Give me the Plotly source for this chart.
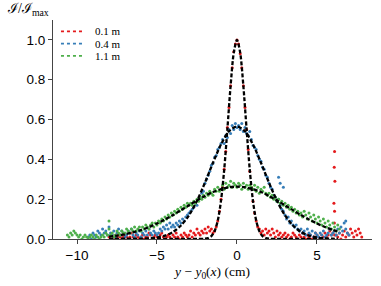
import plotly.graph_objects as go

# ---------------- data ----------------
series_names = ["0.1 m", "0.4 m", "1.1 m"]
series_colors = ["#e41a1c", "#377eb8", "#4daf4a"]

# 0.1 m measurements
red_x = [
    -8.0, -7.9, -7.8, -7.7, -7.6, -7.5, -7.4, -7.3, -7.2, -7.1,
    -7.0, -6.9, -6.8, -6.7, -6.6, -6.5, -6.4, -6.3, -6.2, -6.1,
    -6.0, -5.9, -5.8, -5.7, -5.6, -5.5, -5.4, -5.3, -5.2, -5.1,
    -5.0, -4.9, -4.8, -4.7, -4.6, -4.5, -4.4, -4.3, -4.2, -4.1,
    -4.0, -3.9, -3.8, -3.7, -3.6, -3.5, -3.4, -3.3, -3.2, -3.1,
    -3.0, -2.9, -2.8, -2.7, -2.6, -2.5, -2.4, -2.3, -2.2, -2.1,
    -2.0, -1.9, -1.8, -1.7, -1.6, -1.5, -1.4, -1.3, -1.2, -1.1,
    -1.0, -0.9, -0.8, -0.7, -0.6, -0.5, -0.4, -0.3, -0.2, -0.1,
    0.0, 0.1, 0.2, 0.3, 0.4, 0.5, 0.6, 0.7, 0.8, 0.9,
    1.0, 1.1, 1.2, 1.3, 1.4, 1.5, 1.6, 1.7, 1.8, 1.9,
    2.0, 2.1, 2.2, 2.3, 2.4, 2.5, 2.6, 2.7, 2.8, 2.9,
    3.0, 3.1, 3.2, 3.3, 3.4, 3.5, 3.6, 3.7, 3.8, 3.9,
    4.0, 4.1, 4.2, 4.3, 4.4, 4.5, 4.6, 4.7, 4.8, 4.9,
    5.0, 5.1, 5.2, 5.3, 5.4, 5.5, 5.6, 5.7, 5.8, 5.9,
    6.0, 6.1, 6.2, 6.3, 6.4, 6.5, 6.6, 6.7, 6.8, 6.9,
    7.0, 7.1, 7.2, 7.3, 7.4, 7.5, 7.6, 7.7, 7.8,
    6.1, 6.08, 6.12, 6.06, 6.1, 6.09,
]
red_y = [
    0.01, 0.00, 0.02, 0.01, 0.00, 0.01, 0.02, 0.01, 0.00, 0.01,
    0.02, 0.01, 0.00, 0.01, 0.03, 0.01, 0.00, 0.02, 0.01, 0.00,
    0.01, 0.02, 0.00, 0.01, 0.01, 0.03, 0.02, 0.00, 0.01, 0.02,
    0.01, 0.00, 0.02, 0.03, 0.01, 0.00, 0.01, 0.02, 0.01, 0.00,
    0.02, 0.01, 0.03, 0.01, 0.00, 0.02, 0.01, 0.03, 0.02, 0.01,
    0.02, 0.04, 0.01, 0.03, 0.02, 0.05, 0.03, 0.02, 0.04, 0.03,
    0.05, 0.03, 0.06, 0.04, 0.05, 0.03, 0.04, 0.06, 0.09, 0.14,
    0.20, 0.26, 0.35, 0.44, 0.56, 0.66, 0.77, 0.86, 0.94, 0.98,
    1.00, 0.98, 0.93, 0.86, 0.77, 0.66, 0.55, 0.45, 0.34, 0.26,
    0.19, 0.13, 0.09, 0.06, 0.05, 0.03, 0.04, 0.02, 0.05, 0.03,
    0.04, 0.02, 0.05, 0.03, 0.01, 0.04, 0.02, 0.03, 0.01, 0.02,
    0.03, 0.01, 0.02, 0.00, 0.01, 0.03, 0.02, 0.01, 0.00, 0.02,
    0.01, 0.03, 0.01, 0.00, 0.02, 0.01, 0.02, 0.00, 0.01, 0.03,
    0.02, 0.01, 0.00, 0.02, 0.01, 0.03, 0.01, 0.02, 0.04, 0.02,
    0.03, 0.02, 0.02, 0.01, 0.03, 0.00, 0.02, 0.04, 0.01, 0.03,
    0.02, 0.05, 0.03, 0.01, 0.04, 0.02, 0.05, 0.03, 0.01,
    0.44, 0.36, 0.29, 0.18, 0.14, 0.08,
]

# 0.4 m measurements
blue_x = [
    -9.3, -9.2, -9.1, -9.0,
    -8.9, -8.8, -8.7, -8.6, -8.5, -8.4, -8.3, -8.2, -8.1, -8.0,
    -7.9, -7.8, -7.7, -7.6, -7.5, -7.4, -7.3, -7.2, -7.1, -7.0,
    -6.9, -6.8, -6.7, -6.6, -6.5, -6.4, -6.3, -6.2, -6.1, -6.0,
    -5.9, -5.8, -5.7, -5.6, -5.5, -5.4, -5.3, -5.2, -5.1, -5.0,
    -4.9, -4.8, -4.7, -4.6, -4.5, -4.4, -4.3, -4.2, -4.1, -4.0,
    -3.9, -3.8, -3.7, -3.6, -3.5, -3.4, -3.3, -3.2, -3.1, -3.0,
    -2.9, -2.8, -2.7, -2.6, -2.5, -2.4, -2.3, -2.2, -2.1, -2.0,
    -1.9, -1.8, -1.7, -1.6, -1.5, -1.4, -1.3, -1.2, -1.1, -1.0,
    -0.9, -0.8, -0.7, -0.6, -0.5, -0.4, -0.3, -0.2, -0.1, 0.0,
    0.1, 0.2, 0.3, 0.4, 0.5, 0.6, 0.7, 0.8, 0.9, 1.0,
    1.1, 1.2, 1.3, 1.4, 1.5, 1.6, 1.7, 1.8, 1.9, 2.0,
    2.1, 2.2, 2.3, 2.4, 2.5, 2.6, 2.7, 2.8, 2.9, 3.0,
    3.1, 3.2, 3.3, 3.4, 3.5, 3.6, 3.7, 3.8, 3.9, 4.0,
    4.1, 4.2, 4.3, 4.4, 4.5, 4.6, 4.7, 4.8, 4.9, 5.0,
    5.1, 5.2, 5.3, 5.4, 5.5, 5.6, 5.7, 5.8, 5.9, 6.0,
    6.1, 6.2, 6.3, 6.4, 6.5, 6.6, 6.7, 6.8, 6.9, 7.0,
    2.6, 2.7, 2.9, 6.8,
]
blue_y = [
    0.01, 0.02, 0.00, 0.03,
    0.02, 0.01, 0.04, 0.03, 0.02, 0.05, 0.03, 0.04, 0.02, 0.06,
    0.03, 0.02, 0.04, 0.01, 0.03, 0.05, 0.02, 0.04, 0.03, 0.01,
    0.02, 0.04, 0.03, 0.05, 0.02, 0.01, 0.03, 0.02, 0.04, 0.01,
    0.03, 0.02, 0.04, 0.02, 0.05, 0.03, 0.02, 0.04, 0.03, 0.02,
    0.03, 0.05, 0.04, 0.06, 0.05, 0.07, 0.05, 0.08, 0.06, 0.07,
    0.06, 0.08, 0.07, 0.09, 0.08, 0.10, 0.09, 0.11, 0.12, 0.13,
    0.14, 0.15, 0.16, 0.18, 0.17, 0.20, 0.21, 0.23, 0.24, 0.28,
    0.30, 0.32, 0.34, 0.37, 0.38, 0.41, 0.42, 0.45, 0.46, 0.48,
    0.50, 0.48, 0.52, 0.51, 0.55, 0.53, 0.57, 0.55, 0.58, 0.56,
    0.57, 0.55, 0.58, 0.54, 0.56, 0.53, 0.52, 0.54, 0.50, 0.47,
    0.46, 0.45, 0.42, 0.40, 0.39, 0.36, 0.35, 0.32, 0.31, 0.28,
    0.26, 0.25, 0.22, 0.21, 0.19, 0.20, 0.17, 0.15, 0.14, 0.12,
    0.10, 0.11, 0.08, 0.09, 0.07, 0.06, 0.07, 0.05, 0.04, 0.05,
    0.03, 0.04, 0.02, 0.05, 0.03, 0.02, 0.04, 0.01, 0.03, 0.02,
    0.01, 0.03, 0.02, 0.04, 0.01, 0.02, 0.03, 0.05, 0.02, 0.03,
    0.04, 0.02, 0.05, 0.03, 0.06, 0.04, 0.08, 0.05, 0.03, 0.02,
    0.31, 0.28, 0.26, 0.09,
]

# 1.1 m measurements
green_x = [
    -10.6, -10.5, -10.4, -10.3, -10.2, -10.1,
    -10.0, -9.9, -9.8, -9.7, -9.6, -9.5, -9.4, -9.3, -9.2, -9.1,
    -9.0, -8.9, -8.8, -8.7, -8.6, -8.5, -8.4, -8.3, -8.2, -8.1,
    -8.0, -7.9, -7.8, -7.7, -7.6, -7.5, -7.4, -7.3, -7.2, -7.1,
    -7.0, -6.9, -6.8, -6.7, -6.6, -6.5, -6.4, -6.3, -6.2, -6.1,
    -6.0, -5.9, -5.8, -5.7, -5.6, -5.5, -5.4, -5.3, -5.2, -5.1,
    -5.0, -4.9, -4.8, -4.7, -4.6, -4.5, -4.4, -4.3, -4.2, -4.1,
    -4.0, -3.9, -3.8, -3.7, -3.6, -3.5, -3.4, -3.3, -3.2, -3.1,
    -3.0, -2.9, -2.8, -2.7, -2.6, -2.5, -2.4, -2.3, -2.2, -2.1,
    -2.0, -1.9, -1.8, -1.7, -1.6, -1.5, -1.4, -1.3, -1.2, -1.1,
    -1.0, -0.9, -0.8, -0.7, -0.6, -0.5, -0.4, -0.3, -0.2, -0.1,
    0.0, 0.1, 0.2, 0.3, 0.4, 0.5, 0.6, 0.7, 0.8, 0.9,
    1.0, 1.1, 1.2, 1.3, 1.4, 1.5, 1.6, 1.7, 1.8, 1.9,
    2.0, 2.1, 2.2, 2.3, 2.4, 2.5, 2.6, 2.7, 2.8, 2.9,
    3.0, 3.1, 3.2, 3.3, 3.4, 3.5, 3.6, 3.7, 3.8, 3.9,
    4.0, 4.1, 4.2, 4.3, 4.4, 4.5, 4.6, 4.7, 4.8, 4.9,
    5.0, 5.1, 5.2, 5.3, 5.4, 5.5, 5.6, 5.7, 5.8, 5.9,
    6.0, 6.1, 6.2, 6.3, 6.4,
    -8.0,
]
green_y = [
    0.02, 0.01, 0.03, 0.02, 0.04, 0.03,
    0.02, 0.01, 0.02, 0.00, 0.01, 0.02, 0.01, 0.00, 0.01, 0.02,
    0.01, 0.00, 0.02, 0.01, 0.00, 0.01, 0.02, 0.01, 0.03, 0.02,
    0.05, 0.02, 0.03, 0.01, 0.02, 0.04, 0.03, 0.02, 0.04, 0.03,
    0.03, 0.05, 0.04, 0.03, 0.05, 0.04, 0.06, 0.04, 0.05, 0.06,
    0.04, 0.06, 0.05, 0.07, 0.06, 0.05, 0.07, 0.08, 0.06, 0.08,
    0.07, 0.09, 0.08, 0.10, 0.09, 0.11, 0.10, 0.12, 0.11, 0.13,
    0.12, 0.14, 0.13, 0.15, 0.14, 0.16, 0.15, 0.17, 0.16, 0.18,
    0.17, 0.18, 0.17, 0.19, 0.18, 0.20, 0.19, 0.21, 0.20, 0.22,
    0.21, 0.23, 0.22, 0.24, 0.23, 0.22, 0.25, 0.24, 0.26, 0.24,
    0.25, 0.27, 0.25, 0.28, 0.26, 0.27, 0.29, 0.26, 0.28, 0.27,
    0.26, 0.28, 0.27, 0.25, 0.28, 0.26, 0.27, 0.25, 0.27, 0.26,
    0.25, 0.27, 0.24, 0.26, 0.23, 0.25, 0.24, 0.26, 0.23, 0.22,
    0.23, 0.21, 0.22, 0.20, 0.21, 0.19, 0.20, 0.18, 0.19, 0.17,
    0.18, 0.16, 0.17, 0.15, 0.16, 0.14, 0.15, 0.13, 0.14, 0.12,
    0.13, 0.11, 0.14, 0.12, 0.10, 0.13, 0.11, 0.09, 0.12, 0.10,
    0.08, 0.11, 0.09, 0.07, 0.10, 0.08, 0.06, 0.09, 0.07, 0.05,
    0.08, 0.06, 0.04, 0.07, 0.05,
    0.09,
]

# fitted profiles
red_fit_x = [-8.0, -6.0, -4.0, -3.0, -2.5, -2.0, -1.8, -1.6, -1.4, -1.2, -1.0, -0.8, -0.6, -0.4, -0.2,
             0.0, 0.2, 0.4, 0.6, 0.8, 1.0, 1.2, 1.4, 1.6, 1.8, 2.0, 2.5, 3.0, 4.0, 6.0, 6.3]
red_fit_y = [0.0, 0.0, 0.0, 0.0, 0.0003, 0.0013, 0.0047, 0.0145, 0.0392, 0.0926, 0.191, 0.347, 0.552, 0.768, 0.936,
             1.0, 0.936, 0.768, 0.552, 0.347, 0.191, 0.0926, 0.0392, 0.0145, 0.0047, 0.0013, 0.0003, 0.0, 0.0, 0.0, 0.0]

fit_x = [-8.0, -7.5, -7.0, -6.5, -6.0, -5.5, -5.0, -4.5, -4.0, -3.5, -3.0, -2.5, -2.0, -1.5, -1.0, -0.5,
         0.0, 0.5, 1.0, 1.5, 2.0, 2.5, 3.0, 3.5, 4.0, 4.5, 5.0, 5.5, 6.0, 6.3]
blue_fit_y = [0.0, 0.0, 0.0001, 0.0004, 0.0011, 0.003, 0.0075, 0.017, 0.0355, 0.068, 0.119, 0.192, 0.283, 0.383, 0.475, 0.541,
              0.565, 0.541, 0.475, 0.383, 0.283, 0.192, 0.119, 0.068, 0.0355, 0.017, 0.0075, 0.003, 0.0011, 0.0006]
green_fit_y = [0.0116, 0.0169, 0.024, 0.0334, 0.045, 0.060, 0.078, 0.098, 0.120, 0.145, 0.169, 0.194, 0.216, 0.236, 0.250, 0.260,
               0.263, 0.260, 0.250, 0.236, 0.216, 0.194, 0.169, 0.145, 0.120, 0.098, 0.078, 0.060, 0.045, 0.038]

x_ticks = [-10, -5, 0, 5]
x_tick_labels = ["\u221210", "\u22125", "0", "5"]
y_ticks = [0.0, 0.2, 0.4, 0.6, 0.8, 1.0]
y_tick_labels = ["0.0", "0.2", "0.4", "0.6", "0.8", "1.0"]

# ---------------- figure ----------------
fig = go.Figure()

data_sets = [(red_x, red_y), (blue_x, blue_y), (green_x, green_y)]
fits = [(red_fit_x, red_fit_y), (fit_x, blue_fit_y), (fit_x, green_fit_y)]

for (xs, ys), col in zip(data_sets, series_colors):
    fig.add_trace(go.Scatter(x=xs, y=ys, mode="markers",
                             marker=dict(color=col, size=3, line=dict(width=0)),
                             showlegend=False, hoverinfo="skip"))

for xs, ys in fits:
    fig.add_trace(go.Scatter(x=xs, y=ys, mode="lines",
                             line=dict(color="black", width=2.3, dash="4px,2px", shape="spline", smoothing=0.8),
                             showlegend=False, hoverinfo="skip"))

serif = "Liberation Serif, DejaVu Serif, serif"

# compact legend (matplotlib-like spacing): dotted sample + label per series
legend_rows_y = [0.9484, 0.8922, 0.8361]
for name, col, ly in zip(series_names, series_colors, legend_rows_y):
    fig.add_shape(type="line", xref="paper", yref="paper", x0=0.025, x1=0.091, y0=ly, y1=ly,
                  line=dict(color=col, width=1.8, dash="dot"))
    fig.add_annotation(text=name, xref="paper", yref="paper", x=0.13, y=ly,
                       xanchor="left", yanchor="middle", showarrow=False, borderpad=0,
                       font=dict(family=serif, size=11, color="black"))

axis_common = dict(showgrid=False, zeroline=False, showline=True, linecolor="#444", linewidth=1.2,
                   ticks="outside", ticklen=4, tickwidth=1.2, tickcolor="#444",
                   tickfont=dict(family="Liberation Sans, Arial, sans-serif", size=13.5, color="black"))

fig.update_xaxes(range=[-11.5, 8.44], tickvals=x_ticks, ticktext=x_tick_labels,
                 title=dict(text="<i>y</i> \u2212 <i>y</i><sub>0</sub>(<i>x</i>) (cm)",
                            font=dict(family=serif, size=13.5, color="black"),
                            standoff=4),
                 **axis_common)
fig.update_yaxes(range=[0, 1.1], tickvals=y_ticks, ticktext=y_tick_labels, **axis_common)

fig.add_annotation(text="\u2110/\u2110<sub>max</sub>", xref="paper", yref="paper",
                   x=-0.15, y=1.0, xanchor="left", yanchor="bottom", showarrow=False,
                   font=dict(family=serif, size=14, color="black"))

fig.update_layout(
    width=381, height=286,
    margin=dict(l=53, r=9, t=20, b=47),
    paper_bgcolor="white", plot_bgcolor="white",
    showlegend=False,
)

fig.write_html("out.html", config={"displayModeBar": False},
               post_script="document.body.style.margin='0';document.body.style.overflow='hidden';")
